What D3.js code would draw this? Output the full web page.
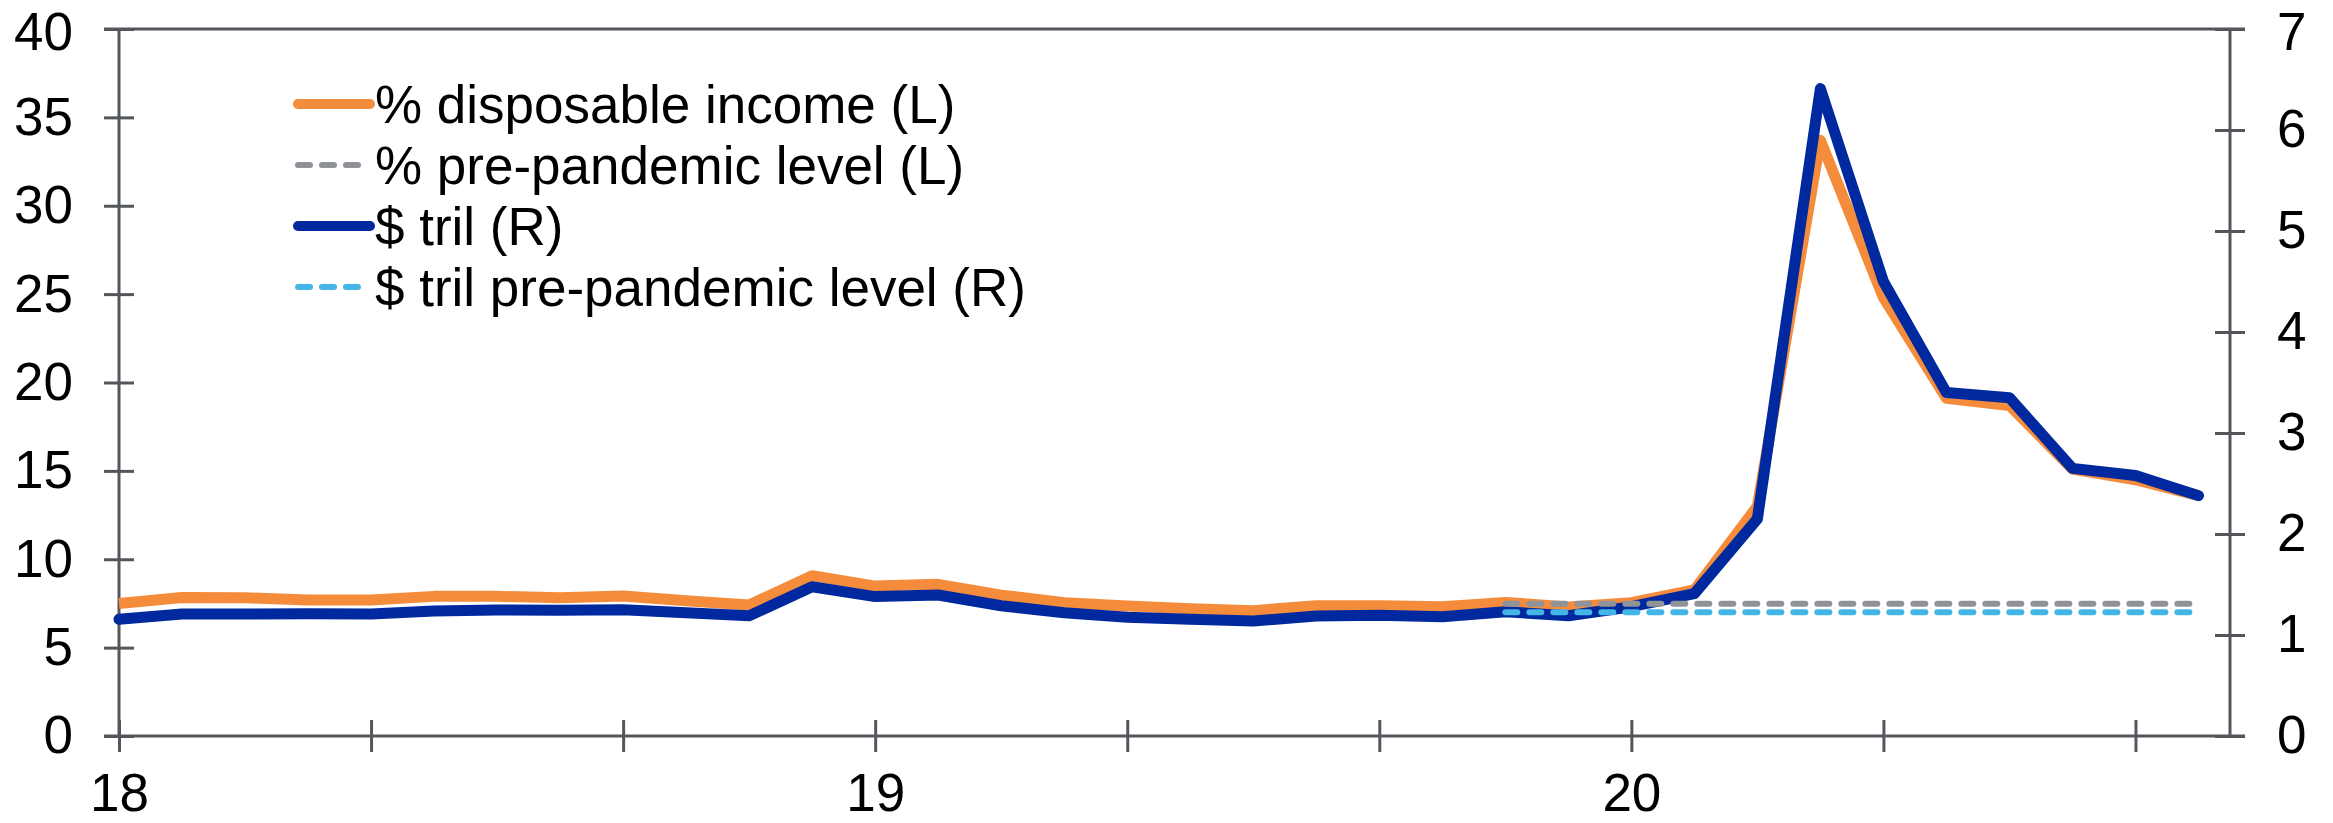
<!DOCTYPE html>
<html>
<head>
<meta charset="utf-8">
<script src="https://cdn.jsdelivr.net/npm/d3@7"></script>
<style>
  html, body { margin: 0; padding: 0; background: #fff; }
  svg text { font-family: "Liberation Sans", Arial, sans-serif; fill: #000; }
</style>
</head>
<body>
<div id="chart"></div>
<script>
// Dữ liệu theo tháng, 01/2018 - 10/2020
const months = [
    "2018-01", "2018-02", "2018-03", "2018-04", "2018-05", "2018-06",
    "2018-07", "2018-08", "2018-09", "2018-10", "2018-11", "2018-12",
    "2019-01", "2019-02", "2019-03", "2019-04", "2019-05", "2019-06",
    "2019-07", "2019-08", "2019-09", "2019-10", "2019-11", "2019-12",
    "2020-01", "2020-02", "2020-03", "2020-04", "2020-05", "2020-06",
    "2020-07", "2020-08", "2020-09", "2020-10"
];

// % disposable income (L)
const pctIncome = [
    7.50, 7.84, 7.82, 7.69, 7.69, 7.90, 7.90, 7.82, 7.92, 7.65, 7.41, 9.07,
    8.48, 8.58, 7.97, 7.54, 7.35, 7.20, 7.09, 7.37, 7.37, 7.31, 7.56, 7.30,
    7.54, 8.26, 13.0, 33.7, 24.8, 19.1, 18.7, 15.1, 14.5, 13.6
];

// $ tril (R)
const tril = [
    1.155, 1.208, 1.208, 1.210, 1.208, 1.238, 1.248, 1.245, 1.250, 1.220, 1.190, 1.478,
    1.380, 1.396, 1.290, 1.220, 1.175, 1.155, 1.138, 1.188, 1.195, 1.180, 1.230, 1.190,
    1.280, 1.410, 2.150, 6.410, 4.500, 3.400, 3.350, 2.650, 2.580, 2.380
];

// Mức trước đại dịch
const preMonths = ["2019-11", "2020-10"];
const prePct = [7.48, 7.48];
const preTril = [1.225, 1.225];

const leftTicks = [0, 5, 10, 15, 20, 25, 30, 35, 40];
const rightTicks = [0, 1, 2, 3, 4, 5, 6, 7];
const yearLabels = { "2018-01": "18", "2019-01": "19", "2020-01": "20" };

const legendItems = [
    { label: "% disposable income (L)", color: "#F48C3C", dash: null },
    { label: "% pre-pandemic level (L)", color: "#909498", dash: "12 12" },
    { label: "$ tril (R)", color: "#00289F", dash: null },
    { label: "$ tril pre-pandemic level (R)", color: "#44B5E6", dash: "12 12" }
];

const W = 2333, H = 823;
const plot = { left: 119, right: 2230, top: 29, bottom: 736 };
const axisColor = "#53575C";
const fontSize = 53;

const svg = d3.select("#chart").append("svg")
    .attr("width", W)
    .attr("height", H);

// Thang đo
const x = d3.scaleLinear().domain([0, 33.5]).range([plot.left, plot.right]);
const yL = d3.scaleLinear().domain([0, 40]).range([plot.bottom, plot.top]);
const yR = d3.scaleLinear().domain([0, 7]).range([plot.bottom, plot.top]);
const idx = m => months.indexOf(m);

// Trục X
const xAxis = svg.append("g")
    .attr("transform", `translate(0,${plot.bottom})`)
    .call(d3.axisBottom(x)
        .tickValues(d3.range(0, 33, 4))
        .tickSize(0)
        .tickPadding(75)
        .tickFormat(i => yearLabels[months[i]] || ""));
xAxis.select(".domain").remove();
xAxis.selectAll(".tick line").attr("y1", -16).attr("y2", 16)
    .attr("stroke", axisColor).attr("stroke-width", 3);
xAxis.selectAll(".tick text").attr("font-size", fontSize).attr("dy", null);
xAxis.attr("font-family", null);

// Trục Y trái
const yAxisL = svg.append("g")
    .attr("transform", `translate(${plot.left},0)`)
    .call(d3.axisLeft(yL).tickValues(leftTicks).tickSize(0).tickPadding(46));
yAxisL.select(".domain").remove();
yAxisL.selectAll(".tick line").attr("x1", -15).attr("x2", 15)
    .attr("stroke", axisColor).attr("stroke-width", 3);
yAxisL.selectAll(".tick text").attr("font-size", fontSize)
    .attr("dy", d => d === 40 ? "0.38em" : "0.32em"); // nhãn trên cùng dịch xuống chút
yAxisL.attr("font-family", null);

// Trục Y phải
const yAxisR = svg.append("g")
    .attr("transform", `translate(${plot.right},0)`)
    .call(d3.axisRight(yR).tickValues(rightTicks).tickSize(0).tickPadding(47)
        .tickFormat(d3.format("d")));
yAxisR.select(".domain").remove();
yAxisR.selectAll(".tick line").attr("x1", -15).attr("x2", 15)
    .attr("stroke", axisColor).attr("stroke-width", 3);
yAxisR.selectAll(".tick text").attr("font-size", fontSize)
    .attr("dy", d => d === 7 ? "0.38em" : "0.32em");
yAxisR.attr("font-family", null);

// Khung
const frame = svg.append("g").attr("stroke", axisColor).attr("stroke-width", 3);
frame.append("line").attr("x1", plot.left - 15).attr("x2", plot.right + 15).attr("y1", plot.top).attr("y2", plot.top);
frame.append("line").attr("x1", plot.left - 15).attr("x2", plot.right + 15).attr("y1", plot.bottom).attr("y2", plot.bottom);
frame.append("line").attr("x1", plot.left).attr("x2", plot.left).attr("y1", plot.top).attr("y2", plot.bottom);
frame.append("line").attr("x1", plot.right).attr("x2", plot.right).attr("y1", plot.top).attr("y2", plot.bottom);

// Đường dữ liệu
const lineL = d3.line().x((d, i) => x(i)).y(d => yL(d));
const lineR = d3.line().x((d, i) => x(i)).y(d => yR(d));

svg.append("path").datum(pctIncome)
    .attr("d", lineL)
    .attr("fill", "none")
    .attr("stroke", legendItems[0].color)
    .attr("stroke-width", 11)
    .attr("stroke-linejoin", "round");

svg.append("path").datum(tril)
    .attr("d", lineR)
    .attr("fill", "none")
    .attr("stroke", legendItems[2].color)
    .attr("stroke-width", 11)
    .attr("stroke-linejoin", "round")
    .attr("stroke-linecap", "round");

const preLine = scale => d3.line().x((d, i) => x(idx(preMonths[i]))).y(d => scale(d));

svg.append("path").datum(prePct)
    .attr("d", preLine(yL))
    .attr("fill", "none")
    .attr("stroke", legendItems[1].color)
    .attr("stroke-width", 6)
    .attr("stroke-linecap", "round")
    .attr("stroke-dasharray", "12 12");

svg.append("path").datum(preTril)
    .attr("d", preLine(yR))
    .attr("fill", "none")
    .attr("stroke", legendItems[3].color)
    .attr("stroke-width", 6)
    .attr("stroke-linecap", "round")
    .attr("stroke-dasharray", "12 12");

// Chú thích
const legend = svg.append("g").attr("transform", "translate(298,104)");
const rows = legend.selectAll("g").data(legendItems).enter().append("g")
    .attr("transform", (d, i) => `translate(0,${i * 61})`);
rows.append("line")
    .attr("x1", 0).attr("x2", d => d.dash ? 66 : 72)
    .attr("y1", 0).attr("y2", 0)
    .attr("stroke", d => d.color)
    .attr("stroke-width", d => d.dash ? 6 : 10)
    .attr("stroke-linecap", "round")
    .attr("stroke-dasharray", d => d.dash);
rows.append("text")
    .attr("x", 77)
    .attr("y", 19)
    .attr("font-size", fontSize)
    .text(d => d.label);
</script>
</body>
</html>
